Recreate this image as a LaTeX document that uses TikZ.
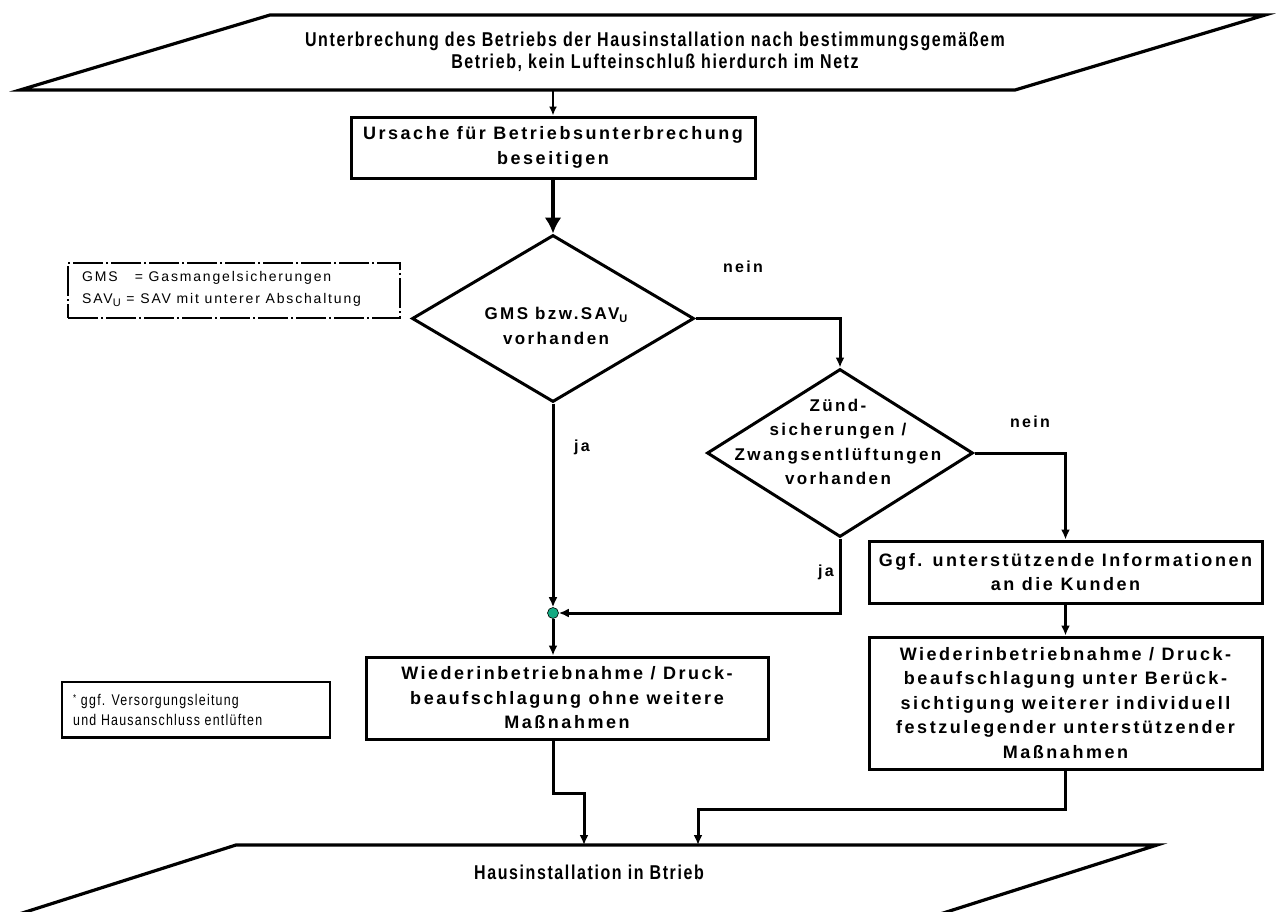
\documentclass[tikz,border=0pt]{standalone}
\usepackage{fontspec}
\setmainfont{Liberation Sans}
\newfontfamily\bxfont[LetterSpace=14]{Liberation Sans}
\newfontfamily\lgfont[LetterSpace=13]{Liberation Sans}
\newfontfamily\nrfont[FakeStretch=0.8,LetterSpace=8]{Liberation Sans}
\usetikzlibrary{shapes.geometric,arrows.meta,calc}
\definecolor{jgreen}{RGB}{20,170,130}
\begin{document}
\begin{tikzpicture}[x=1pt,y=-1pt,
  stepbox/.style={draw,line width=3pt,rectangle,inner sep=0pt,
    font=\bxfont\bfseries\fontsize{18}{24.5}\selectfont,align=center},
  dia/.style={draw,line width=3pt,diamond,inner sep=0pt},
  dialabel/.style={font=\bxfont\bfseries\fontsize{17}{24.5}\selectfont,align=center,inner sep=0pt},
  ptext/.style={font=\nrfont\bfseries\fontsize{20}{21.5}\selectfont,align=center,inner sep=0pt},
  para/.style={draw,line width=3.2pt,line join=miter},
  lbl/.style={font=\bxfont\bfseries\fontsize{16}{18}\selectfont,inner sep=0pt},
  legend/.style={font=\lgfont\fontsize{14}{22}\selectfont,align=left,inner sep=0pt,anchor=west},
  conn/.style={draw,line width=3pt,-{Latex[length=10pt,width=9pt]}},
  thinconn/.style={draw,line width=2pt,-{Latex[length=9pt,width=8pt]}},
  bigconn/.style={draw,line width=3.4pt,-{Latex[length=16pt,width=17pt]}}
]
\clip (0,0) rectangle (1278,911);
\fill[white] (0,0) rectangle (1278,911);

% top parallelogram
\draw[para] (270,15) -- (1265,15) -- (1015,90) -- (20,90) -- cycle;
\node[ptext] (ttext) at (655,52) {Unterbrechung des Betriebs der Hausinstallation nach bestimmungsgemäßem\\Betrieb, kein Lufteinschluß hierdurch im Netz};
\coordinate (tout) at (553,90);

% bottom parallelogram
\draw[para] (236,845) -- (1157,845) -- (937,915) -- (16,915) -- cycle;
\node[ptext] (btext) at (589,872) {Hausinstallation in Btrieb};
\coordinate (bin1) at (584,845);
\coordinate (bin2) at (698,845);

% boxes
\node[stepbox,minimum width=404pt,minimum height=61pt] (b1) at (553,147.5) {Ursache für Betriebsunterbrechung\\beseitigen};
\node[stepbox,minimum width=393pt,minimum height=62pt] (g) at (1065.5,572) {Ggf. unterstützende Informationen\\an die Kunden};
\node[stepbox,minimum width=402pt,minimum height=82pt] (b2) at (567,698) {Wiederinbetriebnahme / Druck-\\beaufschlagung ohne weitere\\Maßnahmen};
\node[stepbox,minimum width=393pt,minimum height=132pt] (b3) at (1065.5,703) {Wiederinbetriebnahme / Druck-\\beaufschlagung unter Berück-\\sichtigung weiterer individuell\\festzulegender unterstützender\\Maßnahmen};

% diamonds
\node[dia,minimum width=282pt,minimum height=167pt] (d1) at (553,318.5) {};
\node[dialabel] (d1t) at (556,326) {GMS bzw.SAV\raisebox{-3pt}{\fontsize{11}{11}\selectfont U}\\vorhanden};
\node[dia,minimum width=266pt,minimum height=168pt] (d2) at (840,453) {};
\node[dialabel] (d2t) at (838,442) {Zünd-\\sicherungen /\\Zwangsentlüftungen\\vorhanden};

% junction
\node[circle,fill=jgreen,draw,line width=0.6pt,minimum size=11pt,inner sep=0pt] (j) at (553,613) {};

% legend and note
\node[draw,line width=1.8pt,dash pattern=on 30pt off 3pt on 2pt off 3pt,minimum width=332pt,minimum height=55pt] (leg) at (234,290.5) {};
\node[legend] (legt) at (82,289) {GMS\ \ \ = Gasmangelsicherungen\\SAV\raisebox{-3pt}{\fontsize{11}{11}\selectfont U} = SAV mit unterer Abschaltung};
\node[draw,line width=1.5pt,minimum width=268pt,minimum height=55pt] (note) at (196,709.5) {};
\draw[line width=3pt] (note.south west) -- (note.south east);
\node[legend,font=\nrfont\fontsize{15.5}{20}\selectfont] (notet) at (73,710) {\raisebox{4pt}{\fontsize{10}{10}\selectfont *} ggf. Versorgungsleitung\\und Hausanschluss entlüften};

% labels
\node[lbl] (nein1) at (743,267) {nein};
\node[lbl] (nein2) at (1030,422) {nein};
\node[lbl] (ja1) at (582,447) {ja};
\node[lbl] (ja2) at (826,572) {ja};

% connectors
\draw[thinconn] (tout) -- (tout |- b1.north);
\draw[bigconn] (b1) -- (d1);
\draw[conn] (d1.east) -| (d2.north);
\draw[conn] (d1.south) -- (j);
\draw[conn] (d2.south) |- (j);
\draw[conn] (j) -- (j |- b2.north);
\draw[conn] (d2.east) -| (g.north);
\draw[conn] (g) -- (b3);
\draw[conn] (j |- b2.south) -- ++(0,53) -| (bin1);
\draw[conn] (b3.south) -- ++(0,39) -| (bin2);
\end{tikzpicture}
\end{document}
